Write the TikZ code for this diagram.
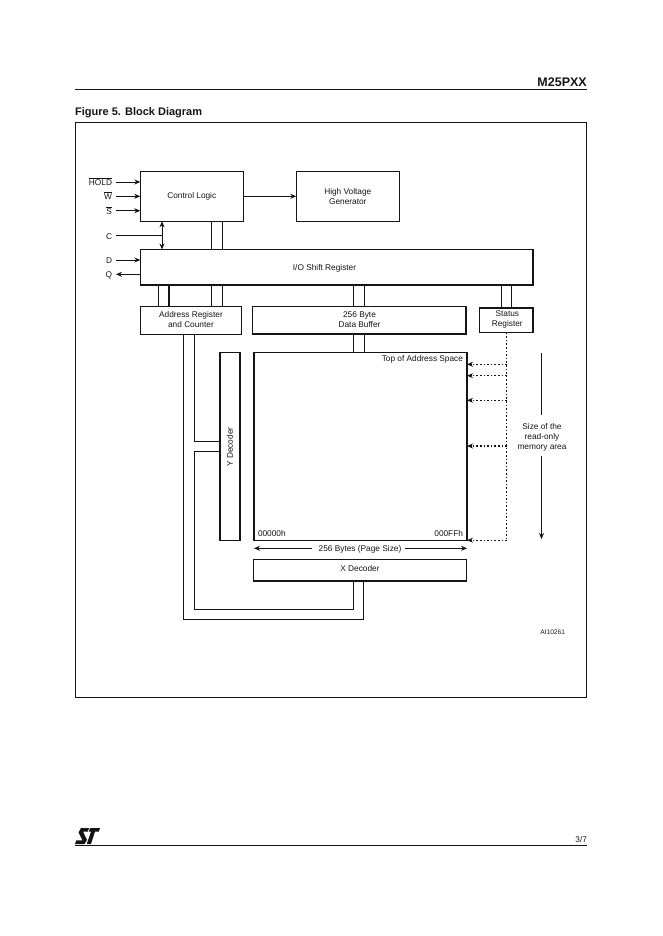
\documentclass[tikz,border=0pt]{standalone}
\usepackage{fontspec}
\setmainfont{Liberation Sans}
\usetikzlibrary{arrows.meta, positioning, calc}
\definecolor{InkBlack}{RGB}{20,20,20}

\begin{document}
\begin{tikzpicture}[
  x=1pt, y=-1pt,
  block/.style={draw=InkBlack, line width=0.9pt, inner sep=0pt, outer sep=0pt,
                font=\fontsize{8.3}{10}\selectfont, align=center,
                text=InkBlack},
  pinlbl/.style={font=\fontsize{8.3}{10}\selectfont, inner sep=4pt, outer sep=0pt,
                 text height=7pt, text depth=0pt, anchor=east, text=InkBlack},
  txt/.style={font=\fontsize{8.3}{10}\selectfont, inner sep=0pt, outer sep=0pt,
              align=center, text=InkBlack},
  heading/.style={font=\fontsize{11}{13}\selectfont\bfseries, inner sep=0pt,
                  text=InkBlack},
  arr/.style={-{Stealth[length=6pt, width=5pt]}, line width=0.8pt, draw=InkBlack},
  darr/.style={{Stealth[length=6pt, width=5pt]}-{Stealth[length=6pt, width=5pt]},
               line width=0.8pt, draw=InkBlack},
  wire/.style={line width=0.8pt, draw=InkBlack},
  dotarr/.style={-{Stealth[length=6pt, width=5pt]}, line width=1.2pt, draw=InkBlack,
                 dash pattern=on 1.6pt off 2pt},
  shadow/.style={line width=1.8pt, draw=InkBlack},
]
\useasboundingbox (0,0) rectangle (662,936);

% page furniture
\node[heading, font=\fontsize{12.5}{14}\selectfont\bfseries, anchor=south east]
  (part) at (587,87) {M25PXX};
\node[heading, anchor=west] (title) at (75,113) {Figure 5. Block Diagram};
\coordinate (ruleL) at (75,89.5);
\coordinate (ruleR) at (587,89.5);
\draw[line width=1pt, InkBlack] (ruleL) -- (ruleR);
\node[block, line width=0.9pt, minimum width=511pt, minimum height=575pt,
      anchor=north west] (frame) at (75,122) {};
\coordinate (footL) at (75,845.5);
\coordinate (footR) at (587,845.5);
\draw[line width=1pt, InkBlack] (footL) -- (footR);
\node[txt, anchor=east] (pageno) at (587,840) {3/7};
\fill[InkBlack] (81,828) -- (89,828) -- (87.8,831.6) -- (83,831.6) -- (87,840)
  -- (84.5,844) -- (75,844) -- (76.2,840.4) -- (82.5,840.4) -- (78.5,832.5) -- cycle;
\fill[InkBlack] (90,828) -- (100,828) -- (98.8,831.6) -- (95,831.6) -- (91,844)
  -- (86.8,844) -- (91,831.6) -- (88.8,831.6) -- cycle;

% main blocks
\node[block, minimum width=103pt, minimum height=50pt, anchor=north west]
  (ctrl) at (140.3,171.3) {Control Logic};
\node[block, right=53pt of ctrl, minimum width=103pt, minimum height=50pt]
  (hv) {High Voltage\\Generator};
\node[block, minimum width=393pt, minimum height=35.5pt, anchor=north west]
  (io) at (140.3,249.4) {};
\node[txt] (iolbl) at (324.5,268) {I/O Shift Register};
\node[block, minimum width=101.3pt, minimum height=28pt, anchor=north west]
  (addr) at (140.3,306) {Address Register\\and Counter};
\node[block, minimum width=214pt, minimum height=28pt, anchor=north west]
  (buf) at (252.3,306) {};
\node[txt] (buflbl) at (359.5,320) {256 Byte\\Data Buffer};
\node[block, line width=1.2pt, minimum width=53.7pt, minimum height=24.6pt,
      anchor=north west] (stat) at (479.3,308) {};
\node[txt] (statlbl) at (507.3,319.3) {Status\\Register};
\node[block, line width=1.3pt, minimum width=213pt, minimum height=188pt,
      anchor=north west] (mem) at (254,352.5) {};
\node[block, line width=1.3pt, minimum width=20pt, minimum height=188.5pt,
      anchor=north west] (ydec) at (220,352.2) {};
\node[txt, rotate=90] (ydeclbl) at (230,447) {Y Decoder};
\node[block, minimum width=213.2pt, minimum height=21.7pt, anchor=north west]
  (xdec) at (253.3,559.3) {};
\node[txt] (xdeclbl) at (360,569) {X Decoder};

\draw[shadow] (io.north east) -- (io.south east) -- (io.south west);
\draw[shadow] (buf.north east) -- (buf.south east) -- (buf.south west);
\draw[shadow] (xdec.south west) -- (xdec.south east);

% labels in the memory area
\node[txt, anchor=north east] (top) at (463,355) {Top of Address Space};
\node[txt, anchor=west] (lowaddr) at (258,534) {00000h};
\node[txt, anchor=east] (highaddr) at (463,534) {000FFh};
\node[txt] (pagesize) at (360,549) {256 Bytes (Page Size)};
\node[txt] (sizelbl) at (542,437.3) {Size of the\\read-only\\memory area};
\node[txt, font=\fontsize{6.6}{8}\selectfont] (airef) at (552.7,632.7) {AI10261};

% pins
\node[pinlbl] (hold) at (116,182) {$\overline{\mbox{HOLD}}$};
\node[pinlbl] (wpin) at (116,196.3) {$\overline{\mbox{W}}$};
\node[pinlbl] (spin) at (116,210.7) {$\overline{\mbox{S}}$};
\node[pinlbl] (cpin) at (116,235.8) {C};
\node[pinlbl] (dpin) at (116,260) {D};
\node[pinlbl] (qpin) at (116,274.3) {Q};

\draw[arr] (hold.east) -- (ctrl.west |- hold.east);
\draw[arr] (wpin.east) -- (ctrl.west |- wpin.east);
\draw[arr] (spin.east) -- (ctrl.west |- spin.east);
\draw[arr] (dpin.east) -- (io.west |- dpin.east);
\draw[arr] (io.west |- qpin.east) -- (qpin.east);
\draw[arr] (ctrl.east |- hv.west) -- (hv.west);

% clock line
\coordinate (clk) at (162,235.8);
\draw[wire] (cpin.east) -- (clk);
\draw[darr] (clk |- ctrl.south) -- (clk |- io.north);

% buses
\foreach \busx in {211.3,222.3} {
  \coordinate (bus) at (\busx,0);
  \draw[wire] (bus |- ctrl.south) -- (bus |- io.north);
  \draw[wire] (bus |- io.south) -- (bus |- addr.north);
}
\coordinate (busA) at (158.3,0);
\coordinate (busB) at (169,0);
\draw[wire] (busA |- io.south) -- (busA |- addr.north);
\draw[shadow, line width=1.4pt] (busB |- io.south) -- (busB |- addr.north);
\foreach \busx in {353.3,364.3} {
  \coordinate (bus) at (\busx,0);
  \draw[wire] (bus |- io.south) -- (bus |- buf.north);
  \draw[wire] (bus |- buf.south) -- (bus |- mem.north);
}
\foreach \busx in {501.7,511.7} {
  \coordinate (bus) at (\busx,0);
  \draw[wire] (bus |- io.south) -- (bus |- stat.north);
}

% address bus to the decoders
\coordinate (outerL) at (183.3,619.3);
\coordinate (innerL) at (194.3,609.3);
\coordinate (outerR) at (363.3,619.3);
\coordinate (innerR) at (353.3,609.3);
\coordinate (yUp) at (220,441.3);
\coordinate (yLo) at (220,451.3);
\draw[wire] (outerL |- addr.south) -- (outerL) -- (outerR) -- (outerR |- xdec.south);
\draw[wire] (innerL |- addr.south) -- (innerL |- yUp) -- (yUp);
\draw[wire] (yLo) -- (innerL |- yLo) -- (innerL) -- (innerR) -- (innerR |- xdec.south);

% read-only area
\coordinate (spine) at (506.7,540.2);
\draw[wire, line width=1.2pt, dash pattern=on 1.6pt off 2pt] (spine |- stat.south) -- (spine);
\foreach \ypos in {364.3,375.7,400.3,446,540.2} {
  \coordinate (tap) at (506.7,\ypos);
  \draw[dotarr] (tap) -- (mem.east |- tap);
}
\coordinate (sizeTop) at (541.5,352.5);
\coordinate (sizeEnd) at (541.5,415);
\coordinate (sizeGo) at (541.5,456);
\coordinate (sizeBot) at (541.5,539);
\draw[wire] (sizeTop) -- (sizeEnd);
\draw[arr] (sizeGo) -- (sizeBot);

% page size arrow
\coordinate (pageL) at (311.7,548.3);
\coordinate (pageR) at (405,548.3);
\draw[arr] (pageL) -- (mem.west |- pageL);
\draw[arr] (pageR) -- (mem.east |- pageR);
\end{tikzpicture}
\end{document}
